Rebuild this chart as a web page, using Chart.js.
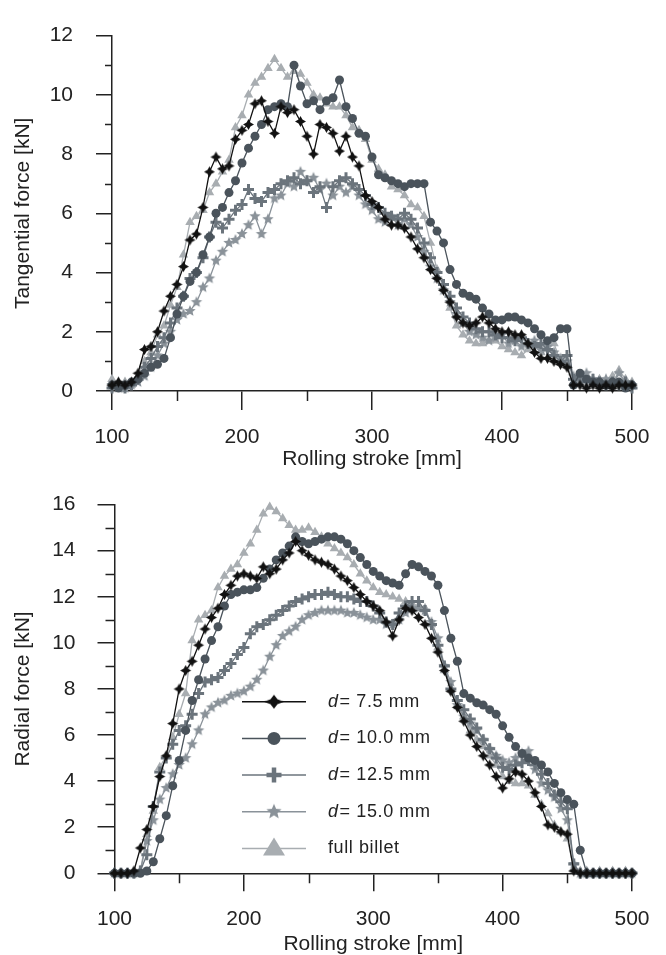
<!DOCTYPE html>
<html>
<head>
<meta charset="utf-8">
<title>Tangential and radial force vs rolling stroke</title>
<script src="https://cdn.jsdelivr.net/npm/chart.js@4.4.1/dist/chart.umd.min.js"></script>
<style>
  html, body { margin: 0; padding: 0; background: #fff; }
  #wrap { position: relative; width: 666px; height: 955px; }
  #tangential-chart { position: absolute; left: 0; top: 0; }
  #radial-chart { position: absolute; left: 0; top: 470px; }
</style>
</head>
<body>
<div id="wrap">
  <canvas id="tangential-chart" width="666" height="470"></canvas>
  <canvas id="radial-chart" width="666" height="485"></canvas>
</div>
<script>
// rolling stroke [mm], one reading every 5 mm
const stroke = [100,105,110,115,120,125,130,135,140,145,150,155,160,165,170,175,180,185,190,195,
  200,205,210,215,220,225,230,235,240,245,250,255,260,265,270,275,280,285,290,295,
  300,305,310,315,320,325,330,335,340,345,350,355,360,365,370,375,380,385,390,395,
  400,405,410,415,420,425,430,435,440,445,450,455,460,465,470,475,480,485,490,495,500];

// tangential force [kN]
const tan75 = [0.2,0.3,0.2,0.3,0.6, 1.4,1.5,2.0,2.7,3.2, 3.6,4.2,5.1,5.3,6.2, 7.4,7.9,7.5,7.6,8.5,
  8.8,9.0,9.7,9.8,9.1, 8.7,9.6,9.4,9.5,9.1, 8.6,8.0,9.0,8.9,8.7, 8.1,8.6,7.9,7.6,6.6,
  6.4,6.2,5.8,5.6,5.6, 5.5,5.2,4.8,4.5,4.1, 3.8,3.4,3.0,2.5,2.3, 2.2,2.3,2.5,2.3,2.1,
  2.0,2.0,1.9,1.9,1.6, 1.3,1.1,1.1,1.0,0.9, 0.8,0.2,0.2,0.1,0.2, 0.1,0.2,0.1,0.2,0.2, 0.2];
const tan100 = [0.2,0.1,0.2,0.3,0.4, 0.6,0.8,0.9,1.1,1.8, 2.6,3.2,3.7,4.0,4.6, 5.2,6.0,6.2,6.7,7.1,
  7.7,8.2,8.6,9.0,9.5, 9.6,9.7,9.6,11.0,10.3, 9.7,9.8,9.5,9.8,9.9, 10.5,9.6,9.2,8.7,8.6,
  7.9,7.3,7.2,7.1,7.0, 6.9,7.0,7.0,7.0,5.7, 5.4,5.0,4.1,3.6,3.3, 3.2,3.1,2.8,2.6,2.4,
  2.4,2.5,2.5,2.4,2.3, 2.1,1.9,1.7,1.8,2.1, 2.1,0.2,0.6,0.4,0.3, 0.3,0.2,0.3,0.3,0.1, 0.2];
const tan125 = [0.1,0.2,0.1,0.2,0.4, 0.8,1.1,1.5,1.8,2.3, 2.8,3.2,3.8,4.0,4.5, 5.2,5.7,5.5,5.8,6.1,
  6.3,6.8,6.5,6.4,6.7, 6.8,7.0,7.1,7.2,7.0, 7.1,6.7,6.9,6.2,6.9, 7.1,7.2,7.0,6.8,6.6,
  6.3,6.2,6.0,5.9,5.8, 6.0,5.8,5.5,5.0,4.5, 4.0,3.6,3.2,2.8,2.5, 2.3,2.1,2.0,2.0,1.9,
  1.8,1.8,1.7,1.8,1.6, 1.5,1.6,1.4,1.2,1.0, 1.2,0.4,0.5,0.3,0.4, 0.3,0.2,0.3,0.2,0.3, 0.1];
const tan150 = [0.2,0.1,0.1,0.2,0.3, 0.5,0.8,1.2,1.6,2.0, 2.4,2.6,2.7,3.0,3.5, 3.8,4.4,4.7,5.0,5.1,
  5.3,5.6,5.9,5.3,5.8, 6.5,6.6,7.0,6.9,7.4, 7.1,7.2,6.8,7.0,6.6, 6.9,6.7,6.9,6.6,6.3,
  6.1,5.8,5.7,5.9,5.6, 5.8,5.6,5.2,4.7,4.2, 3.8,3.4,3.0,2.6,2.3, 2.0,1.9,1.8,1.7,1.8,
  1.9,1.6,1.7,1.5,1.6, 1.7,1.4,1.5,1.3,1.1, 1.0,0.5,0.3,0.6,0.4, 0.3,0.4,0.2,0.6,0.3, 0.2];
const tanFull = [0.4,0.3,0.3,0.2,0.5, 1.0,1.3,1.9,2.2,2.9, 3.5,4.6,5.7,5.9,6.1, 6.7,7.0,7.4,7.8,8.9,
  9.3,10.0,10.4,10.6,10.9, 11.2,10.9,10.6,10.8,10.7, 10.4,10.0,9.9,9.7,9.6, 9.6,9.3,8.9,8.8,8.5,
  7.8,7.5,7.3,6.9,6.8, 6.6,6.3,6.2,5.9,5.0, 4.1,3.5,2.8,2.2,1.9, 1.7,1.6,1.6,1.7,1.7,
  1.5,1.4,1.3,1.2,1.4, 1.5,1.3,1.4,1.6,1.0, 0.9,0.3,0.4,0.5,0.3, 0.4,0.3,0.5,0.7,0.4, 0.3];

// radial force [kN]
const rad75 = [0,0,0,0.1,1.1, 1.9,2.9,4.2,5.1,6.5, 8.0,8.8,9.2,9.9,10.6, 11.1,11.5,12.1,12.5,12.9,
  13.0,12.9,12.8,13.3,13.0, 13.2,13.6,13.9,14.4,14.0, 13.8,13.6,13.5,13.4,13.2, 12.9,12.7,12.4,12.1,11.8,
  11.6,11.4,10.9,10.3,11.0, 11.5,11.4,11.1,10.8,10.2, 9.6,8.8,7.9,7.2,6.6, 6.0,5.5,5.1,4.7,4.2,
  3.7,4.1,4.4,4.3,4.0, 3.5,2.9,2.1,2.0,1.8, 1.7,0.1,0,0,0, 0,0,0,0,0, 0];
const rad100 = [0,0,0,0,0, 0.1,0.5,1.5,2.5,3.8, 4.9,6.2,7.5,8.4,9.3, 10.1,10.7,11.6,12.1,12.2,
  12.3,12.3,12.4,12.8,13.2, 13.6,13.9,14.2,14.6,14.4, 14.3,14.4,14.5,14.6,14.6, 14.5,14.3,14.0,13.7,13.4,
  13.1,12.9,12.7,12.6,12.5, 13.0,13.4,13.3,13.1,12.9, 12.5,11.4,10.2,9.2,7.8, 7.6,7.4,7.3,7.1,6.9,
  6.4,5.9,5.5,5.2,5.0, 4.9,4.7,4.4,3.9,3.5, 3.2,3.0,1.0,0,0, 0,0,0,0,0, 0];
const rad125 = [0,0,0,0,0.1, 0.8,2.9,4.4,5.0,5.6, 6.2,6.4,6.9,7.8,8.3, 8.4,8.5,8.8,9.1,9.5,
  9.8,10.4,10.7,10.8,11.0, 11.2,11.4,11.6,11.8,11.9, 12.0,12.1,12.1,12.2,12.1, 12.0,12.0,11.9,11.8,11.8,
  11.6,11.3,10.9,10.8,11.3, 11.6,11.8,11.8,11.4,10.8, 9.9,9.0,8.0,7.5,7.1, 6.7,6.3,5.8,5.4,5.0,
  4.6,4.5,4.7,4.8,4.9, 4.7,4.3,3.9,3.4,3.1, 2.8,0.4,0,0,0, 0,0,0,0,0, 0];
const rad150 = [0,0,0,0,0.1, 1.4,2.3,3.2,3.7,4.3, 4.7,5.0,5.6,6.2,6.9, 7.2,7.4,7.5,7.7,7.8,
  7.9,8.1,8.4,8.8,9.4, 9.9,10.3,10.5,10.7,11.0, 11.2,11.3,11.4,11.4,11.4, 11.4,11.3,11.3,11.2,11.1,
  11.0,11.0,10.8,10.8,11.0, 11.3,11.5,11.5,11.4,10.9, 10.2,9.0,8.3,7.3,6.8, 6.5,6.2,5.8,5.4,5.1,
  4.9,4.8,5.0,5.2,5.3, 4.5,3.9,3.6,3.3,2.8, 2.3,0.4,0,0,0, 0,0,0,0,0, 0];
const radFull = [0,0,0,0,0.1, 1.7,2.7,4.6,5.1,5.9, 6.9,7.8,10.1,11.0,11.2, 11.4,12.4,12.9,13.2,13.4,
  13.9,14.3,14.9,15.6,15.9, 15.7,15.4,15.1,14.9,14.9, 15.0,14.8,14.6,14.3,14.1, 13.9,13.7,13.4,13.0,12.7,
  12.4,12.2,12.1,12.0,11.9, 11.8,11.7,11.6,11.5,10.8, 9.8,8.8,8.0,7.3,6.8, 6.2,5.8,5.5,5.1,4.7,
  4.2,4.0,3.9,3.9,3.8, 3.4,3.0,2.6,2.1,1.8, 1.5,0.2,0.1,0.1,0, 0.1,0,0.1,0,0.1, 0];

const seriesLabels = ['d = 7.5 mm', 'd = 10.0 mm', 'd = 12.5 mm', 'd = 15.0 mm', 'full billet'];
const seriesColors = ['#111111', '#4a535b', '#6b747c', '#8a9299', '#a8adb1'];

const xTicks = [100, 500, 100];      // min, max, step
const xMinor = [150, 250, 350, 450];
const tanY = [0, 12, 2];
const tanMinor = [1, 3, 5, 7, 9, 11];
const radY = [0, 16, 2];
const radMinor = [1, 3, 5, 7, 9, 11, 13, 15];

const axisColor = '#222';
const fontFamily = "'Liberation Sans', Arial, sans-serif";

Chart.defaults.font.family = fontFamily;
Chart.defaults.font.size = 21;
Chart.defaults.color = axisColor;

// small filled star shapes used as point markers
function starMarker(points, r, inner, color, sx) {
  const c = document.createElement('canvas');
  const w = Math.ceil(2 * r * (sx || 1) + 2), h = Math.ceil(2 * r + 2);
  c.width = w; c.height = h;
  const g = c.getContext('2d');
  g.fillStyle = color;
  g.beginPath();
  for (let i = 0; i < points * 2; i++) {
    const a = -Math.PI / 2 + i * Math.PI / points;
    const rr = i % 2 ? r * inner : r;
    g.lineTo(w / 2 + rr * Math.cos(a) * (sx || 1), h / 2 + rr * Math.sin(a));
  }
  g.closePath();
  g.fill();
  return c;
}

const diamondPt = starMarker(4, 5.5, 0.5, seriesColors[0]);
const starPt = starMarker(5, 6, 0.45, seriesColors[3]);

const pointStyles = [diamondPt, 'circle', 'cross', starPt, 'triangle'];
const pointRadii = [4.5, 4.5, 5.5, 5.5, 5.5];

function makeDatasets(series) {
  return series.map((vals, i) => ({
    label: seriesLabels[i],
    data: stroke.map((s, k) => ({x: s, y: vals[k]})),
    borderColor: seriesColors[i],
    backgroundColor: seriesColors[i],
    borderWidth: 1.3,
    pointStyle: pointStyles[i],
    pointRadius: pointRadii[i],
    pointBorderWidth: i === 2 ? 3 : 0,
    pointBorderColor: seriesColors[i],
    pointBackgroundColor: seriesColors[i],
    tension: 0,
    clip: false
  }));
}

const minorTicks = {
  id: 'minorTicks',
  afterDraw(chart, args, opts) {
    const {ctx, scales: {x, y}} = chart;
    ctx.save();
    ctx.strokeStyle = axisColor;
    ctx.lineWidth = 1.5;
    ctx.beginPath();
    opts.y.forEach(v => {
      const py = Math.round(y.getPixelForValue(v)) + 0.5;
      ctx.moveTo(y.right - opts.yLen, py);
      ctx.lineTo(y.right, py);
    });
    opts.x.forEach(v => {
      const px = Math.round(x.getPixelForValue(v)) + 0.5;
      ctx.moveTo(px, x.top);
      ctx.lineTo(px, x.top + opts.xLen);
    });
    ctx.stroke();
    ctx.restore();
  }
};

// legend drawn inside the radial chart
const insideLegend = {
  id: 'insideLegend',
  afterDatasetsDraw(chart, args, opts) {
    if (!opts.show) return;
    const {ctx} = chart;
    ctx.save();
    seriesLabels.forEach((label, i) => {
      const y = opts.top + i * opts.gap;
      const col = seriesColors[i];
      ctx.strokeStyle = col;
      ctx.fillStyle = col;
      ctx.lineWidth = 1.5;
      ctx.beginPath();
      ctx.moveTo(opts.x0, y);
      ctx.lineTo(opts.x1, y);
      ctx.stroke();
      const mx = (opts.x0 + opts.x1) / 2;
      ctx.beginPath();
      if (i === 0) {
        const img = starMarker(4, 7, 0.5, col, 1.4);
        ctx.drawImage(img, mx - img.width / 2, y - img.height / 2);
      } else if (i === 1) {
        ctx.arc(mx, y, 6.5, 0, Math.PI * 2);
        ctx.fill();
      } else if (i === 2) {
        ctx.lineWidth = 4.5;
        ctx.moveTo(mx - 7.5, y); ctx.lineTo(mx + 7.5, y);
        ctx.moveTo(mx, y - 7.5); ctx.lineTo(mx, y + 7.5);
        ctx.stroke();
      } else if (i === 3) {
        const img = starMarker(5, 8, 0.45, col);
        ctx.drawImage(img, mx - img.width / 2, y - img.height / 2);
      } else {
        ctx.moveTo(mx, y - 11);
        ctx.lineTo(mx + 11, y + 7);
        ctx.lineTo(mx - 11, y + 7);
        ctx.closePath();
        ctx.fill();
      }
      ctx.fillStyle = axisColor;
      ctx.textBaseline = 'middle';
      ctx.textAlign = 'left';
      ctx.letterSpacing = '0.6px';
      let tx = opts.textX;
      let rest = label;
      if (label.startsWith('d ')) {
        ctx.font = 'italic 18px ' + fontFamily;
        ctx.fillText('d', tx, y);
        tx += ctx.measureText('d').width + 1;
        rest = label.slice(2);
      }
      ctx.font = '18px ' + fontFamily;
      ctx.fillText(rest, tx, y);
    });
    ctx.restore();
  }
};

function makeOptions(cfg) {
  return {
    responsive: false,
    animation: false,
    layout: {padding: {top: cfg.padTop, right: 34, left: 0, bottom: 0}},
    plugins: {
      legend: {display: false},
      tooltip: {enabled: false},
      minorTicks: {x: xMinor, y: cfg.minor, xLen: cfg.xMinorLen, yLen: cfg.yMinorLen},
      insideLegend: cfg.legend
    },
    scales: {
      x: {
        type: 'linear',
        min: xTicks[0], max: xTicks[1],
        afterFit: s => { s.height = cfg.xHeight; },
        ticks: {stepSize: xTicks[2], padding: 15, maxRotation: 0, autoSkip: false},
        grid: {drawOnChartArea: false, drawTicks: true, tickLength: cfg.xTickLen, color: axisColor, lineWidth: 1.5},
        border: {display: true, color: axisColor, width: 1.5},
        title: {display: true, text: 'Rolling stroke [mm]', font: {size: 21, lineHeight: 1}, padding: {top: 0, bottom: 0.5}}
      },
      y: {
        min: cfg.y[0], max: cfg.y[1],
        afterFit: s => { s.width = cfg.yWidth; },
        ticks: {stepSize: cfg.y[2], padding: cfg.yPad},
        grid: {drawOnChartArea: false, drawTicks: true, tickLength: cfg.yTickLen, color: axisColor, lineWidth: 1.5},
        border: {display: true, color: axisColor, width: 1.5},
        title: {display: true, text: cfg.title, font: {size: 21, lineHeight: 1}, padding: {top: 12.5, bottom: 0}}
      }
    }
  };
}

new Chart(document.querySelector('#tangential-chart').getContext('2d'), {
  type: 'line',
  data: {datasets: makeDatasets([tan75, tan100, tan125, tan150, tanFull])},
  options: makeOptions({
    padTop: 17, xHeight: 79, yWidth: 112, y: tanY, minor: tanMinor,
    yPad: 23, yTickLen: 16, yMinorLen: 7, xTickLen: 19, xMinorLen: 10,
    title: 'Tangential force [kN]', legend: {show: false}
  }),
  plugins: [minorTicks, insideLegend]
});

new Chart(document.querySelector('#radial-chart').getContext('2d'), {
  type: 'line',
  data: {datasets: makeDatasets([rad75, rad100, rad125, rad150, radFull])},
  options: makeOptions({
    padTop: 30, xHeight: 81.7, yWidth: 114.5, y: radY, minor: radMinor,
    yPad: 22, yTickLen: 17, yMinorLen: 9, xTickLen: 18, xMinorLen: 10,
    title: 'Radial force [kN]',
    legend: {show: true, x0: 242, x1: 306, top: 231.7, gap: 36.7, textX: 328}
  }),
  plugins: [minorTicks, insideLegend]
});
</script>
</body>
</html>
